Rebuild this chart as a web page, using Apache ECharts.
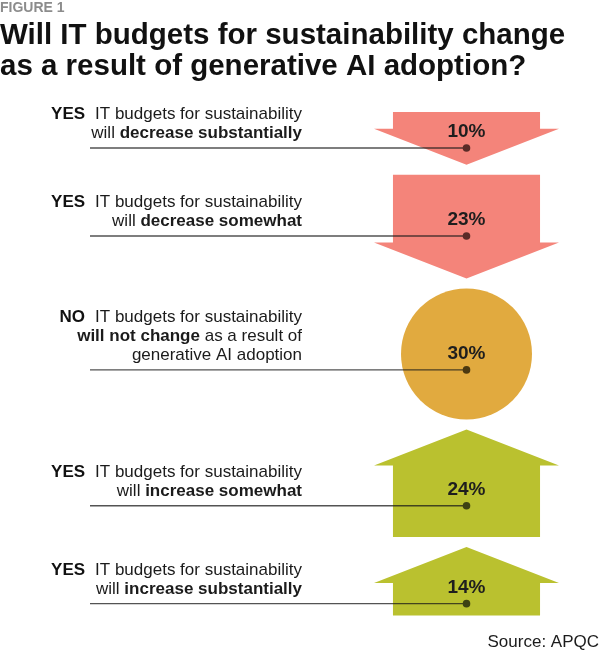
<!DOCTYPE html>
<html>
<head>
<meta charset="utf-8">
<title>IT budgets for sustainability</title>
<script src="https://cdn.jsdelivr.net/npm/echarts@6/dist/echarts.min.js"></script>
<style>
html, body { margin: 0; padding: 0; background: #fff; }
#chart { width: 600px; height: 652px; }
</style>
</head>
<body>
<div id="chart"></div>
<script>
// answers, texts and shares
var answers = ['YES', 'YES', 'NO', 'YES', 'YES'];
var leadLines = [
	'IT budgets for sustainability',
	'IT budgets for sustainability',
	'IT budgets for sustainability',
	'IT budgets for sustainability',
	'IT budgets for sustainability'
];
// rest of each label, {b|..} = bold part
var tailLines = [
	'{r|will }{b|decrease substantially}',
	'{r|will }{b|decrease somewhat}',
	'{b|will not change}{r| as a result of}\n{r|generative AI adoption}',
	'{r|will }{b|increase somewhat}',
	'{r|will }{b|increase substantially}'
];
var shares = [10, 23, 30, 24, 14];
var shapeKinds = ['down', 'down', 'circle', 'up', 'up'];

// look of the shapes
var HEAD = 36;          // arrow head height
var HEAD_W = 185;       // arrow head width (= band width)
var BODY_RATIO = 0.795; // body width / head width
var AREA_PER_PT = 578;  // arrow area per percentage point
var CIRCLE_D = 131;
var GAP = 10;
var LABEL_RIGHT = 302;
var LINE_START = 90;
var FONT = '"Liberation Sans", Arial, Helvetica, sans-serif';

var kindStyle = {
	down: { fill: '#F4847A', dot: '#5a2b27' },
	circle: { fill: '#E1AA3F', dot: '#4b3810' },
	up: { fill: '#BAC12F', dot: '#3d4213' }
};

// stack the shapes top to bottom, arrow area follows the share
function extentOf(i) {
	if (shapeKinds[i] === 'circle') {
		return CIRCLE_D;
	}
	var bodyW = HEAD_W * BODY_RATIO;
	return HEAD + (AREA_PER_PT * shares[i] - HEAD_W * HEAD / 2) / bodyW;
}
var rows = [];
var pos = 0;
for (var i = 0; i < shares.length; i++) {
	var h = extentOf(i);
	rows.push([0, pos, pos + h, i]);
	pos += h + GAP;
}
var total = pos - GAP;

function renderItem(params, api) {
	var idx = api.value(3);
	var p0 = api.coord([0, api.value(1)]);
	var p1 = api.coord([0, api.value(2)]);
	var cx = p0[0], top = p0[1], bot = p1[1];
	var bw = api.size([1, 0])[0];
	var unit = api.size([0, 1])[1];
	var hw = bw / 2, bh = bw * BODY_RATIO / 2, head = HEAD * unit;
	var kind = shapeKinds[idx];
	var st = kindStyle[kind];
	var shapeEl, cy, neck, a1, c1, a2, c2;

	if (kind === 'down') {
		neck = bot - head;
		shapeEl = {
			type: 'polygon',
			shape: { points: [[cx - bh, top], [cx + bh, top], [cx + bh, neck], [cx + hw, neck],
				[cx, bot], [cx - hw, neck], [cx - bh, neck]] },
			style: { fill: st.fill }
		};
		a1 = 2 * bh * (neck - top); c1 = (top + neck) / 2;
		a2 = hw * head; c2 = neck + head / 3;
		cy = (a1 * c1 + a2 * c2) / (a1 + a2);
	} else if (kind === 'up') {
		neck = top + head;
		shapeEl = {
			type: 'polygon',
			shape: { points: [[cx, top], [cx + hw, neck], [cx + bh, neck], [cx + bh, bot],
				[cx - bh, bot], [cx - bh, neck], [cx - hw, neck]] },
			style: { fill: st.fill }
		};
		a1 = 2 * bh * (bot - neck); c1 = (neck + bot) / 2;
		a2 = hw * head; c2 = top + head * 2 / 3;
		cy = (a1 * c1 + a2 * c2) / (a1 + a2);
	} else {
		cy = (top + bot) / 2;
		shapeEl = {
			type: 'circle',
			shape: { cx: cx, cy: cy, r: (bot - top) / 2 },
			style: { fill: st.fill }
		};
	}
	var dotY = cy + 16;

	return {
		type: 'group',
		children: [
			shapeEl,
			{
				type: 'line',
				shape: { x1: LINE_START, y1: dotY, x2: cx, y2: dotY },
				style: { stroke: 'rgba(25,25,25,0.75)', lineWidth: 1.4 }
			},
			{
				type: 'circle',
				shape: { cx: cx, cy: dotY, r: 3.8 },
				style: { fill: st.dot }
			},
			{
				type: 'text',
				style: {
					x: cx, y: cy,
					text: shares[idx] + '%',
					align: 'center', verticalAlign: 'middle',
					fontSize: 19, fontWeight: 'bold', fontFamily: FONT, fill: '#1e1e1e'
				}
			},
			{
				type: 'text',
				style: {
					x: LABEL_RIGHT, y: dotY - 5,
					text: '{k|' + answers[idx] + '}{r|' + leadLines[idx] + '}\n' + tailLines[idx],
					align: 'right', verticalAlign: 'bottom',
					fontSize: 17, fontFamily: FONT, fill: '#1b1b1b', lineHeight: 19,
					rich: {
						k: { fontSize: 17, fontFamily: FONT, fontWeight: 'bold', fill: '#111', lineHeight: 19, padding: [0, 10, 0, 0] },
						r: { fontSize: 17, fontFamily: FONT, fontWeight: 'normal', fill: '#1b1b1b', lineHeight: 19 },
						b: { fontSize: 17, fontFamily: FONT, fontWeight: 'bold', fill: '#1b1b1b', lineHeight: 19 }
					}
				}
			}
		]
	};
}

var myChart = echarts.init(document.getElementById('chart'));
var option = {
	animation: false,
	textStyle: { fontFamily: FONT },
	title: [ {
		text: 'FIGURE 1',
		left: 0,
		top: 1,
		padding: 0,
		textStyle: { fontSize: 14, fontWeight: 'bold', color: '#8c8c8c', fontFamily: FONT }
	}, {
		text: 'Will IT budgets for sustainability change\nas a result of generative AI adoption?',
		left: 0,
		top: 20,
		padding: 0,
		textStyle: { fontSize: 29.5, fontWeight: 'bold', color: '#111', lineHeight: 31, fontFamily: FONT }
	}, {
		text: 'Source: APQC',
		right: 1,
		bottom: 1,
		padding: 0,
		textStyle: { fontSize: 17, fontWeight: 'normal', color: '#1b1b1b', fontFamily: FONT }
	} ],
	grid: {
		left: 374,
		width: HEAD_W,
		top: 112,
		height: total
	},
	xAxis: {
		type: 'category',
		data: ['share'],
		show: false
	},
	yAxis: {
		type: 'value',
		inverse: true,
		min: 0,
		max: total,
		show: false
	},
	series: [ {
		type: 'custom',
		clip: false,
		silent: true,
		renderItem: renderItem,
		encode: { x: 0, y: [1, 2] },
		data: rows
	} ]
};
myChart.setOption(option);
</script>
</body>
</html>
